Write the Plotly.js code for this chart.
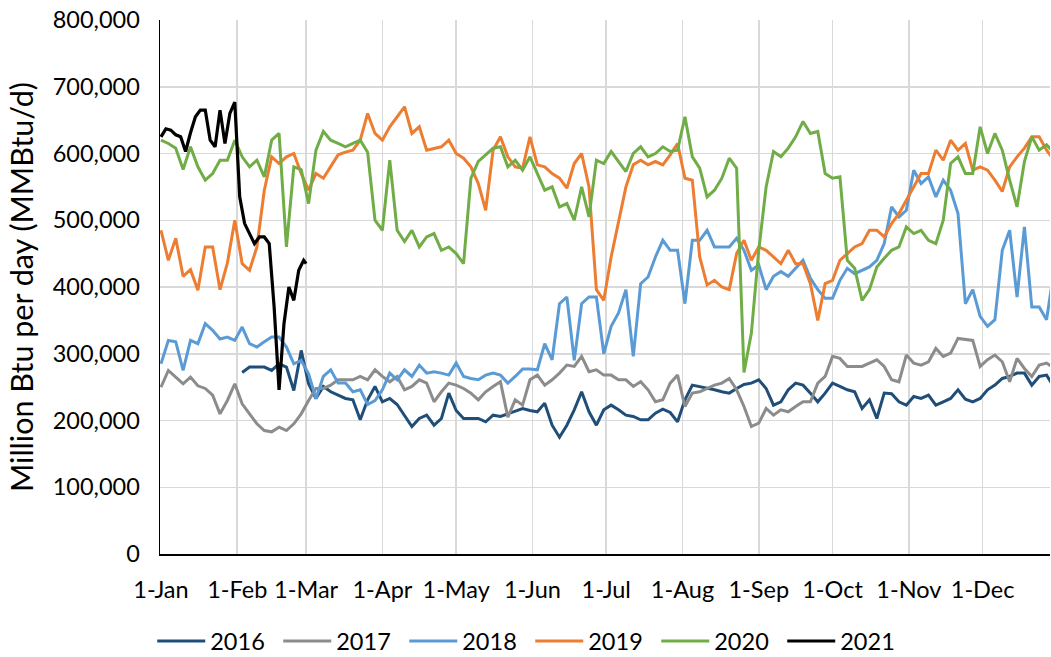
<!DOCTYPE html>
<html>
<head>
<meta charset="utf-8">
<script src="https://cdn.plot.ly/plotly-3.0.1.min.js"></script>
<style>
html,body{margin:0;padding:0;background:#fff;}
#chart{width:1051px;height:657px;}
</style>
</head>
<body>
<div id="chart"></div>
<script>
// Day-of-year positions (0 = 1-Jan)
const days = [0,3,6,9,12,15,18,21,24,27,30,33,36,39,42,45,48,51,54,57,60,
  63,66,69,72,75,78,81,84,87,90,93,96,99,102,105,108,111,114,117,120,
  123,126,129,132,135,138,141,144,147,150,153,156,159,162,165,168,171,174,177,
  180,183,186,189,192,195,198,201,204,207,210,213,216,219,222,225,228,231,234,237,
  240,243,246,249,252,255,258,261,264,267,270,273,276,279,282,285,288,291,294,
  297,300,303,306,309,312,315,318,321,324,327,330,333,336,339,342,345,348,351,354,357,360,
  362];
const days2021 = [0,2,4,6,8,10,12,14,16,18,20,22,24,26,28,30,32,34,36,38,40,42,44,46,48,50,52,54,56,58,59];

// Thousand MMBtu/d
const y2016 = [null,null,null,null,null,null,null,null,null,null,null,272,280,280,280,275,285,280,245,305,255,
  233,251,243,238,233,231,201,231,251,228,233,224,208,191,203,208,193,203,241,215,
  203,203,203,198,208,206,210,215,218,215,213,226,193,175,193,216,243,213,193,
  216,223,216,208,206,201,201,211,217,212,198,231,253,251,248,246,243,241,248,254,
  256,261,248,223,228,246,256,253,241,228,241,256,251,246,243,218,231,203,241,
  240,228,223,236,233,238,223,228,233,246,232,228,233,246,253,263,266,271,271,253,266,268,
  256];
const y2017 = [250,275,265,255,265,252,248,238,210,230,255,225,210,195,185,183,190,185,195,210,230,
  248,248,253,261,261,261,266,261,276,266,258,266,246,251,261,256,228,243,256,253,
  248,241,231,243,251,258,205,231,223,261,268,253,261,271,283,281,296,273,276,
  268,268,261,261,251,258,246,228,231,256,268,221,241,243,248,253,256,263,246,221,
  191,196,218,208,216,213,221,228,228,256,266,296,293,281,281,281,286,291,281,
  261,258,298,286,283,288,308,296,301,323,322,320,281,291,298,288,258,293,278,266,283,286,
  281];
const y2018 = [285,320,318,275,320,315,345,335,322,325,320,340,315,310,318,325,325,310,285,290,270,
  233,266,276,256,256,243,246,224,230,246,271,261,276,266,283,271,273,271,268,286,
  266,263,261,268,271,268,256,266,277,277,276,315,291,375,385,290,375,385,385,
  300,341,361,396,296,405,415,445,470,455,455,375,470,470,485,460,460,460,473,455,
  425,433,396,416,423,416,428,440,413,396,383,383,410,428,420,425,430,440,465,
  520,505,515,575,555,565,535,560,545,510,375,396,356,341,351,455,485,385,490,370,370,351,
  400];
const y2019 = [485,440,473,416,426,395,460,460,396,436,500,435,425,460,545,595,585,595,600,570,545,
  570,563,580,598,602,605,620,660,630,620,640,655,670,630,640,605,607,610,620,600,
  593,580,555,515,605,625,595,580,578,625,583,580,570,563,548,585,600,550,396,
  380,445,500,550,583,590,583,588,583,598,615,563,560,445,403,410,400,396,450,470,
  440,460,455,445,435,455,435,435,405,350,405,410,440,450,460,465,485,485,475,
  495,510,530,550,570,570,605,590,620,605,615,575,580,575,560,543,580,595,608,625,625,605,
  595];
const y2020 = [620,615,608,576,610,580,560,570,590,590,620,595,580,590,565,620,630,460,580,576,525,
  605,633,620,615,610,615,620,602,500,485,590,485,468,485,460,475,480,455,460,450,
  435,563,588,598,608,610,580,590,575,595,570,545,550,520,525,500,550,505,590,
  585,603,588,573,600,610,595,600,610,603,605,655,595,578,535,545,563,593,578,272,
  331,455,550,603,595,608,625,648,630,633,570,563,565,440,428,380,396,430,443,
  455,460,490,480,485,470,465,500,585,595,570,570,640,600,630,605,560,520,588,625,605,613,
  605];
const y2021 = [625,637,635,628,625,603,631,655,665,665,620,610,665,615,660,677,535,495,480,465,475,475,465,370,246,345,400,380,425,440,435];

const seriesNames = ['2016','2017','2018','2019','2020','2021'];
const seriesX = [days, days, days, days, days, days2021];
const seriesY = [y2016, y2017, y2018, y2019, y2020, y2021];
const colors = ['#1F4E79','#8C8C8C','#5B9BD5','#ED7D31','#70AD47','#000000'];
const widths = [3, 3, 3, 3, 3, 3.2];

const monthStarts = [0,31,59,90,120,151,181,212,243,273,304,334];
const monthLabels = ['1-Jan','1-Feb','1-Mar','1-Apr','1-May','1-Jun','1-Jul','1-Aug','1-Sep','1-Oct','1-Nov','1-Dec'];

const traces = seriesNames.map((n, i) => ({
  type: 'scatter', mode: 'lines', name: n,
  x: seriesX[i],
  y: seriesY[i].map(v => v === null ? null : v * 1000),
  line: {color: colors[i], width: widths[i]},
  connectgaps: false,
  hoverinfo: 'skip'
}));

const FONT = 'Lato, "Open Sans", sans-serif';

const layout = {
  width: 1051, height: 657,
  margin: {l: 160, r: 1, t: 20, b: 103, autoexpand: false},
  paper_bgcolor: '#fff', plot_bgcolor: '#fff',
  font: {family: FONT, color: '#000', size: 23},
  showlegend: true,
  legend: {
    orientation: 'h', x: 0.416, xanchor: 'center',
    yref: 'container', y: 0.024, yanchor: 'middle',
    font: {family: FONT, size: 23.5, color: '#000'},
    itemwidth: 48, traceorder: 'normal', entrywidth: 63
  },
  xaxis: {
    range: [-0.4, 361.4], automargin: false,
    tickmode: 'array', tickvals: monthStarts, ticktext: monthLabels,
    showgrid: true, gridcolor: '#d9d9d9', gridwidth: 1.5,
    showline: true, linecolor: '#000', linewidth: 1.5,
    zeroline: false, ticks: '', ticklabelstandoff: 14,
    tickfont: {family: FONT, size: 23.5, color: '#000'}
  },
  yaxis: {
    range: [0, 800000], dtick: 100000, tickformat: ',d', automargin: false,
    showgrid: true, gridcolor: '#d9d9d9', gridwidth: 1.5,
    showline: true, linecolor: '#000', linewidth: 1.5,
    zeroline: false, ticks: '', ticklabelstandoff: 14,
    tickfont: {family: FONT, size: 23.5, color: '#000'},
    title: {text: 'Million Btu per day (MMBtu/d)', font: {family: FONT, size: 30.5, color: '#000'}, standoff: 10}
  }
};

Plotly.newPlot('chart', traces, layout, {displayModeBar: false, staticPlot: true});
</script>
</body>
</html>
